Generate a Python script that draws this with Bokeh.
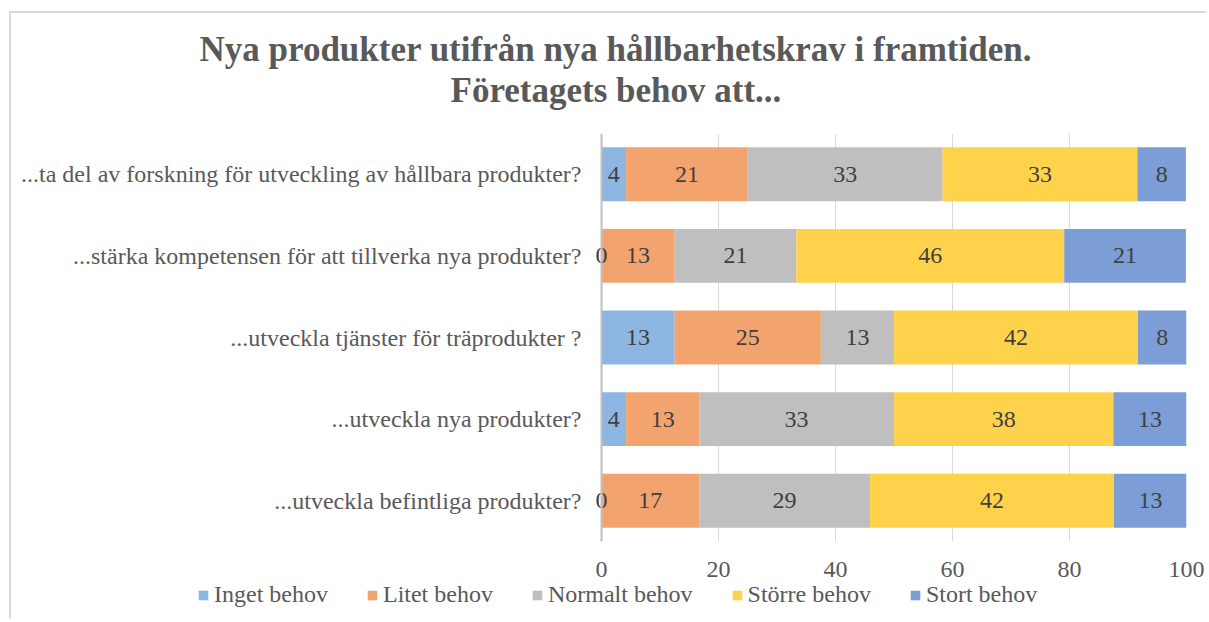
import numpy as np
from bokeh.plotting import figure
from bokeh.layouts import column
from bokeh.models import (ColumnDataSource, FactorRange, Range1d, FixedTicker,
                          Legend, LegendItem, Title, Span)
from bokeh.core.properties import value
from bokeh.embed import file_html
from bokeh.resources import INLINE

# ---- data (percent of respondents) ----
categories = [
    "...ta del av forskning för utveckling av hållbara produkter?",
    "...stärka kompetensen för att tillverka nya produkter?",
    "...utveckla tjänster för träprodukter ?",
    "...utveckla nya produkter?",
    "...utveckla befintliga produkter?",
]
series_names = ["Inget behov", "Litet behov", "Normalt behov", "Större behov", "Stort behov"]
inget   = [4.2, 0.0, 12.5, 4.2, 0.0]
litet   = [20.8, 12.5, 25.0, 12.5, 16.7]
normalt = [33.3, 20.8, 12.5, 33.3, 29.2]
storre  = [33.3, 45.8, 41.7, 37.5, 41.7]
stort   = [8.3, 20.8, 8.3, 12.5, 12.5]
x_ticks = [0, 20, 40, 60, 80, 100]
title_line1 = "Nya produkter utifrån nya hållbarhetskrav i framtiden."
title_line2 = "Företagets behov att..."

colors = ["#8DB6E2", "#F3A46E", "#BFBFBF", "#FFD24C", "#7C9DD5"]
FONT = "'Liberation Serif'"
TXT = "#595959"

series = [inget, litet, normalt, storre, stort]

p = figure(width=1197, height=578, output_backend="svg", toolbar_location=None,
           y_range=FactorRange(factors=categories[::-1], range_padding=0),
           x_range=Range1d(-1.2, 100), title=None,
           min_border_left=583, min_border_right=22, min_border_top=120,
           min_border_bottom=50)
p.frame_align = False
p.outline_line_color = None
p.background_fill_color = "white"
p.border_fill_color = "white"

left = np.zeros(len(categories))
sources = []
for name, vals, col in zip(series_names, series, colors):
    vals = np.array(vals, dtype=float)
    right = left + vals
    src = ColumnDataSource(dict(
        y=categories, left=left.copy(), right=right.copy(),
        mid=left + vals / 2,
        lab=[str(int(v + 0.5)) for v in vals]))
    p.hbar(y="y", left="left", right="right", height=0.66, source=src,
           fill_color=col, line_color=None)
    sources.append(src)
    left = right

# value axis line at 0
p.add_layout(Span(location=0, dimension="height", line_color="#BFBFBF", line_width=2))

for src in sources:
    p.text(x="mid", y="y", text="lab", source=src, text_align="center",
           text_baseline="middle", text_font=value(FONT),
           text_font_size="24px", text_color="#404040")

# axes
p.xaxis.ticker = FixedTicker(ticks=x_ticks)
p.xaxis.axis_line_color = None
p.xaxis.major_tick_line_color = None
p.xaxis.minor_tick_line_color = None
p.xaxis.major_tick_out = 0
p.xaxis.major_tick_in = 0
p.xaxis.major_label_standoff = 20
p.xaxis.major_label_text_font = FONT
p.xaxis.major_label_text_font_size = "24px"
p.xaxis.major_label_text_color = TXT

p.yaxis.axis_line_color = None
p.yaxis.major_tick_line_color = None
p.yaxis.minor_tick_line_color = None
p.yaxis.major_tick_out = 0
p.yaxis.major_tick_in = 0
p.yaxis.major_label_standoff = 13
p.yaxis.major_label_text_font = FONT
p.yaxis.major_label_text_font_size = "24px"
p.yaxis.major_label_text_color = TXT

p.xgrid.grid_line_color = "#D9D9D9"
p.ygrid.grid_line_color = None

# titles (two lines); first added is nearest to the plot
spacer = Title(text=" ", text_font_size="20px", standoff=0)
t2 = Title(text=title_line2, align="left", offset=-144, text_font=FONT,
           text_font_size="35px", text_font_style="bold", text_color=TXT,
           standoff=0)
t1 = Title(text=title_line1, align="left", offset=-395, text_font=FONT,
           text_font_size="35px", text_font_style="bold", text_color=TXT,
           standoff=0)
p.add_layout(spacer, "above")
p.add_layout(t2, "above")
p.add_layout(t1, "above")

# chart-area border (light grey, left and top)
p.styles = {"border-left": "2px solid #D9D9D9", "border-top": "2px solid #D9D9D9",
            "margin-left": "9px", "margin-top": "11px"}

# legend strip (separate small figure, same colours)
p2 = figure(width=1197, height=39, output_backend="svg", toolbar_location=None,
            x_range=Range1d(0, 1), y_range=Range1d(0, 1), min_border=0)
p2.frame_align = False
p2.axis.visible = False
p2.grid.visible = False
p2.outline_line_color = None
p2.background_fill_alpha = 0
p2.border_fill_alpha = 0
leg_renderers = []
for name, col in zip(series_names, colors):
    # swatch source kept outside the visible range; only its legend entry shows
    r = p2.hbar(y=[-5], left=[0], right=[1], height=0.5, fill_color=col, line_color=None)
    leg_renderers.append(r)
legend = Legend(items=[LegendItem(label=n, renderers=[r]) for n, r in zip(series_names, leg_renderers)],
                orientation="horizontal", location=(186, 11),
                glyph_width=12, glyph_height=12, label_standoff=5, spacing=38,
                padding=0, margin=0, border_line_color=None,
                background_fill_alpha=0,
                label_text_font=FONT, label_text_font_size="24px",
                label_text_color=TXT)
p2.add_layout(legend, "center")
p2.margin = (-9, 0, 0, 9)
p2.styles = {"border-left": "2px solid #D9D9D9"}

layout = column(p, p2, spacing=0)
open("out.html", "w").write(file_html(layout, INLINE))
